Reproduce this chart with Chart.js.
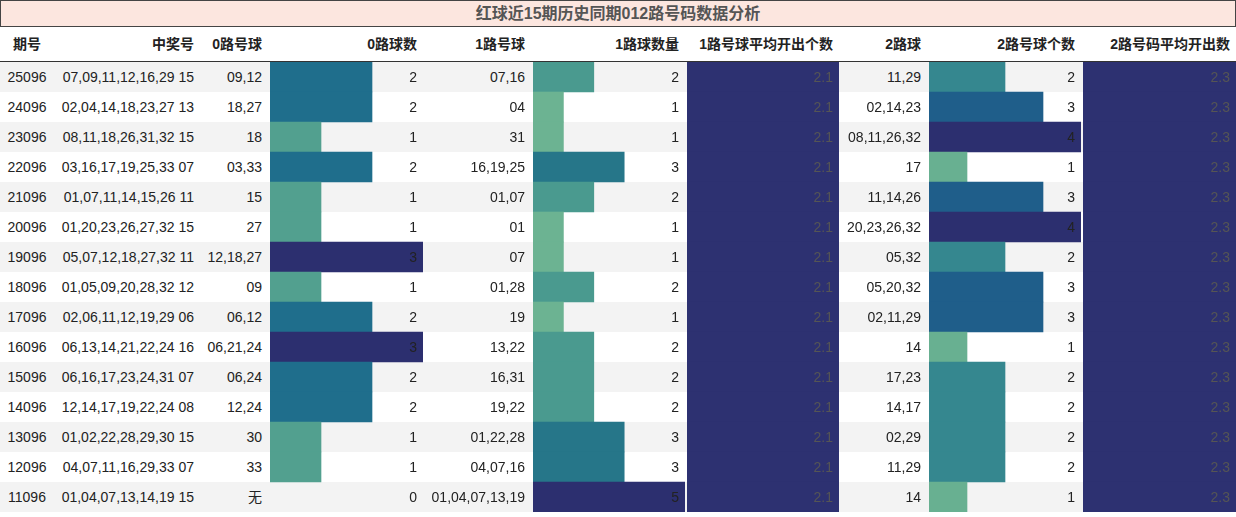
<!DOCTYPE html>
<html><head><meta charset="utf-8">
<script src="https://cdn.jsdelivr.net/npm/chart.js@4"></script>
<style>
body{margin:0;width:1236px;height:517px;background:#fff;font-family:"Liberation Sans","Noto Sans CJK SC",sans-serif;font-size:14px;color:#222;position:relative;overflow:hidden}
#title{position:absolute;left:0;top:0;width:1234px;height:25px;background:#fce6df;border:1px solid #444;text-align:center;line-height:25px;font-weight:bold;font-size:16px;color:#555}
.cell{position:absolute;height:30px;line-height:30px;white-space:nowrap;box-sizing:border-box;padding:0 6px}
.hd{font-weight:bold;height:34px;line-height:34px}
.rowbg{position:absolute;left:0;width:1236px;height:30px}
canvas{position:absolute}
#hline{position:absolute;left:0;top:61px;width:1236px;height:1px;background:#333}
</style></head><body>
<div id="title">红球近15期历史同期012路号码数据分析</div>
<div id="hline"></div>
<script>
const periods=["25096","24096","23096","22096","21096","20096","19096","18096","17096","16096","15096","14096","13096","12096","11096"];
const winNums=["07,09,11,12,16,29 15","02,04,14,18,23,27 13","08,11,18,26,31,32 15","03,16,17,19,25,33 07","01,07,11,14,15,26 11","01,20,23,26,27,32 15","05,07,12,18,27,32 11","01,05,09,20,28,32 12","02,06,11,12,19,29 06","06,13,14,21,22,24 16","06,16,17,23,24,31 07","12,14,17,19,22,24 08","01,02,22,28,29,30 15","04,07,11,16,29,33 07","01,04,07,13,14,19 15"];
const balls0=["09,12","18,27","18","03,33","15","27","12,18,27","09","06,12","06,21,24","06,24","12,24","30","33","无"];
const count0=[2,2,1,2,1,1,3,1,2,3,2,2,1,1,0];
const balls1=["07,16","04","31","16,19,25","01,07","01","07","01,28","19","13,22","16,31","19,22","01,22,28","04,07,16","01,04,07,13,19"];
const count1=[2,1,1,3,2,1,1,2,1,2,2,2,3,3,5];
const avg1=Array(15).fill(2.1);
const balls2=["11,29","02,14,23","08,11,26,32","17","11,14,26","20,23,26,32","05,32","05,20,32","02,11,29","14","17,23","14,17","02,29","11,29","14"];
const count2=[2,3,4,1,3,4,2,3,3,1,2,2,2,2,1];
const avg2=Array(15).fill(2.3);
const headers=["期号","中奖号","0路号球","0路球数","1路号球","1路球数量","1路号球平均开出个数","2路球","2路号球个数","2路号码平均开出数"];

const cols=[[0,54],[54,200],[200,268],[268,423],[423,531],[531,685],[685,839],[839,927],[927,1081],[1081,1236]];
const textCols=[periods,winNums,balls0,count0,balls1,count1,avg1,balls2,count2,avg2];
const TOP=62,RH=30;
for(let r=0;r<15;r++){const d=document.createElement('div');d.className='rowbg';d.style.top=(TOP+r*RH)+'px';d.style.background=r%2==0?'#f3f3f3':'#fff';document.body.appendChild(d);}
headers.forEach((h,i)=>{const d=document.createElement('div');d.className='cell hd';d.style.left=cols[i][0]+'px';d.style.width=(cols[i][1]-cols[i][0])+'px';d.style.top='27px';d.style.textAlign=i==0?'center':'right';d.textContent=h;document.body.appendChild(d);});

function barCol(ci,data,max,colorFn){
  const c=document.createElement('canvas');const x0=cols[ci][0]+2,w=cols[ci][1]-x0;
  c.style.left=x0+'px';c.style.top=TOP+'px';c.style.width=w+'px';c.style.height=(15*RH)+'px';
  const wrap=document.createElement('div');wrap.style.cssText=`position:absolute;left:${x0}px;top:${TOP}px;width:${w}px;height:${15*RH}px`;
  c.style.left='0';c.style.top='0';wrap.appendChild(c);document.body.appendChild(wrap);
  new Chart(c,{type:'bar',data:{labels:periods,datasets:[{data:data,backgroundColor:data.map(colorFn),borderWidth:0,barPercentage:1,categoryPercentage:1}]},
   options:{indexAxis:'y',responsive:true,maintainAspectRatio:false,animation:false,layout:{padding:0},
    plugins:{legend:{display:false},tooltip:{enabled:false}},
    scales:{x:{display:false,min:0,max:max},y:{display:false}}}});
}
const pal0={1:'#52a08f',2:'#1f6e8c',3:'#2c2f6f'};
const pal1={1:'#6cb392',2:'#4a9a8f',3:'#267689',5:'#2c2f6f'};
const pal2={1:'#68b091',2:'#35878f',3:'#1f5e8a',4:'#2c2f6f'};
barCol(3,count0,3,v=>pal0[v]||'transparent');
barCol(5,count1,5,v=>pal1[v]||'transparent');
barCol(6,avg1,2.1,()=>'#2d3171');
barCol(8,count2,4,v=>pal2[v]||'transparent');
barCol(9,avg2,2.3,()=>'#2d3171');

textCols.forEach((arr,i)=>{arr.forEach((v,r)=>{const d=document.createElement('div');d.className='cell';d.style.left=cols[i][0]+'px';d.style.width=(cols[i][1]-cols[i][0])+'px';d.style.top=(TOP+r*RH)+'px';d.style.textAlign=i==0?'center':'right';d.style.zIndex=5;if(i==6||i==9)d.style.color='#555';d.textContent=(i==6||i==9)?v.toFixed(1):v;document.body.appendChild(d);});});
</script>
</body></html>
